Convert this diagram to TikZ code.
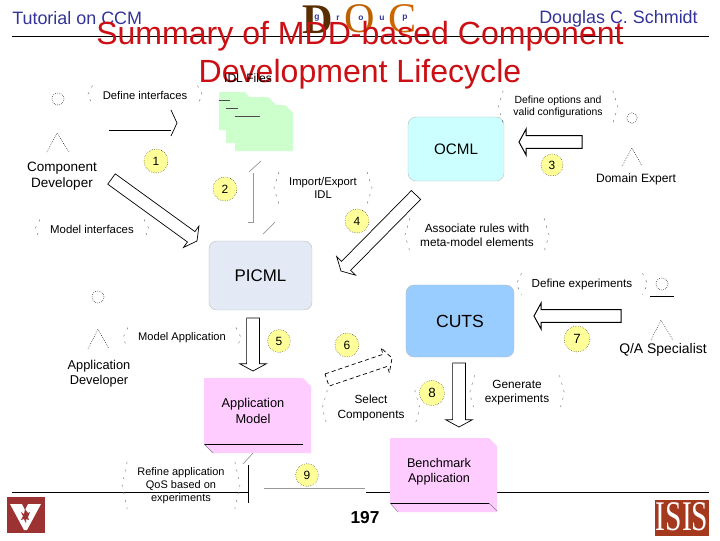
\documentclass[tikz,border=0pt]{standalone}
\usepackage{fontspec}
\setmainfont{Liberation Sans}
\newfontfamily\logofont{Liberation Serif}
\usetikzlibrary{calc}
\definecolor{titlered}{HTML}{CC0F14}
\definecolor{headblue}{HTML}{333399}
\definecolor{ocmlcolor}{HTML}{CCFFFF}
\definecolor{picmlcolor}{HTML}{E3EAF5}
\definecolor{cutscolor}{HTML}{99CCFF}
\definecolor{modelcolor}{HTML}{FFCCFF}
\definecolor{idlcolor}{HTML}{CCFFCC}
\definecolor{stepcolor}{HTML}{FFFF99}
\definecolor{vandycolor}{HTML}{9C3232}
\definecolor{isiscolor}{HTML}{A5391E}
\newcommand{\fsize}[1]{\fontsize{#1}{1.2\dimexpr#1\relax}\selectfont}
\tikzset{
  caption/.style={align=center, inner sep=0pt, font=\fsize{8pt}},
  actorname/.style={align=center, inner sep=0pt, font=\fsize{9.6pt}},
  toolbox/.style={rounded corners=2mm, draw=black!25, line width=0.3pt, inner sep=0pt},
  stepmark/.style={circle, fill=stepcolor, draw=black, densely dotted, line width=0.3pt, inner sep=0pt, minimum size=0.6cm, font=\fsize{8.5pt}},
  actorhead/.style={circle, draw=black, densely dotted, line width=0.4pt, inner sep=0pt, minimum size=0.3cm},
  actorlegs/.style={draw=black, line width=0.4pt, densely dotted},
  blockline/.style={draw=black, fill=white, line width=0.5pt},
  frag/.style={draw=black!60, line width=0.3pt, dash pattern=on 1.5pt off 4pt},
}
% arrow with a wide shaft between two named points
\newcommand{\blockarrow}[3][]{
  \coordinate (basept) at ($(#3)!1.8mm!(#2)$);
  \path[blockline,#1] ($(#2)!1.6mm!90:(#3)$) -- ($(basept)!1.6mm!90:(#3)$) -- ($(basept)!3.3mm!90:(#3)$) -- (#3)
    -- ($(basept)!3.3mm!-90:(#3)$) -- ($(basept)!1.6mm!-90:(#3)$) -- ($(#2)!1.6mm!-90:(#3)$) -- cycle;
}
\begin{document}
\begin{tikzpicture}[x=0.025cm,y=-0.025cm]
\useasboundingbox (0,0) rectangle (720,540);
% Logo
\node[text=black!65!orange, font=\logofont\bfseries\fsize{30pt}, inner sep=0pt] (logod) at (318,20) {D};
\node[text=black!25!orange, font=\logofont\fsize{30pt}, inner sep=0pt] (logoo) at (360,19) {O};
\node[text=black!20!orange, font=\logofont\fsize{30pt}, inner sep=0pt] (logoc) at (403,19) {C};
\foreach \lx/\lc in {317/g,338/r,361/o,382/u,405/p}
  \node[text=headblue, font=\bfseries\fsize{6pt}, inner sep=0pt] (logo\lc) at (\lx,18) {\lc};
% Header and footer
\draw[line width=0.5pt] (12,36) -- (709,36);
\draw[line width=0.5pt] (12,492) -- (248,492);
\draw[line width=0.5pt] (366,492) -- (709,492);
\node[right, headblue, inner sep=0pt, font=\fsize{12.75pt}] (tutorial) at (12,18) {Tutorial on CCM};
\node[left, headblue, inner sep=0pt, font=\fsize{12.75pt}] (author) at (698,19) {Douglas C. Schmidt};
\node[titlered, align=center, inner sep=0pt, font=\fontsize{22.8pt}{27.3pt}\selectfont] (slidetitle) at (360,55.5) {Summary of MDD-based Component\\Development Lifecycle};
\node[inner sep=0pt, font=\fsize{12.3pt}\bfseries] (pagenum) at (365,518) {197};
% IDL files
\node[caption, font=\fsize{8.6pt}] (idllabel) at (248,78) {IDL Files};
\fill[idlcolor] (219,92) -- (245,92) -- (252,100) -- (252,130) -- (219,130) -- cycle;
\fill[idlcolor] (226,97) -- (268,97) -- (276,105) -- (276,143) -- (226,143) -- cycle;
\fill[idlcolor] (235,105) -- (285,105) -- (293,113) -- (293,151) -- (235,151) -- cycle;
\draw[black!70, line width=0.5pt] (219,100) -- (230,100);
\draw[black!70, line width=0.5pt] (226,108) -- (238,108);
\draw[black!70, line width=0.5pt] (235,116) -- (260,116);
% Tools
\node[toolbox, fill=ocmlcolor, minimum width=2.4cm, minimum height=1.6cm, font=\fsize{10.8pt}] (ocml) at (456,149) {OCML};
\node[toolbox, fill=picmlcolor, minimum width=2.575cm, minimum height=1.725cm, font=\fsize{12pt}] (picml) at (260.5,275.5) {PICML};
\node[toolbox, fill=cutscolor, minimum width=2.7cm, minimum height=1.8cm, font=\fsize{12.5pt}] (cuts) at (460,321) {CUTS};
% Models
\fill[modelcolor] (204,378) -- (303,378) -- (311,386) -- (311,453) -- (213,453) -- (204,444) -- cycle;
\draw[line width=0.5pt] (204,444) -- (303,444);
\draw[black!50, line width=0.3pt] (204,444) -- (213,453);
\node[caption, font=\fsize{9.1pt}] (appmodel) at (253,411) {Application\\Model};
\fill[modelcolor] (390,438) -- (489,438) -- (497,446) -- (497,512) -- (398,512) -- (390,503) -- cycle;
\draw[line width=0.5pt] (390,503) -- (489,503);
\draw[black!50, line width=0.3pt] (390,503) -- (398,512);
\draw[black!50, line width=0.3pt] (489,503) -- (497,511);
\node[caption, font=\fsize{9pt}] (benchmark) at (439,472) {Benchmark\\Application};
% Actors
\node[actorhead] (devhead) at (58,99) {};
\draw[actorlegs] (47,152) -- (57,133) -- (69,152);
\node[actorname] (devname) at (62,176) {Component\\Developer};
\node[actorhead, minimum size=0.26cm] (domainhead) at (632,118) {};
\draw[actorlegs] (622,166) -- (632,148) -- (642,166);
\node[actorname, font=\fsize{8.6pt}] (domainname) at (636,179) {Domain Expert};
\node[actorhead] (apphead) at (98,297) {};
\draw[actorlegs] (88,349) -- (98,329) -- (109,349);
\node[actorname, font=\fsize{9.1pt}] (appname) at (99,373.5) {Application\\Developer};
\node[actorhead] (qahead) at (662,284) {};
\draw[line width=0.5pt] (650,296) -- (674,296);
\draw[actorlegs] (651,340) -- (661,320) -- (673,340);
\node[actorname, font=\fsize{9.9pt}] (qaname) at (663,350) {Q/A Specialist};
% Captions
\node[caption] (definelabel) at (145,95) {Define interfaces};
\node[caption, font=\fsize{8.1pt}] (modellabel) at (92,229) {Model interfaces};
\node[caption] (importlabel) at (323,188) {Import/Export\\IDL};
\node[caption, font=\fsize{7.4pt}] (optionlabel) at (558,107) {Define options and\\valid configurations};
\node[caption, font=\fsize{8.4pt}] (rulelabel) at (477,235) {Associate rules with\\meta-model elements};
\node[caption, font=\fsize{8.3pt}] (expdeflabel) at (582,284) {Define experiments};
\node[caption, font=\fsize{7.9pt}] (applabel) at (182,338) {Model Application};
\node[caption, font=\fsize{8.4pt}] (selectlabel) at (371,408) {Select\\Components};
\node[caption, font=\fsize{8.4pt}] (genlabel) at (517,393) {Generate\\experiments};
\node[caption, font=\fsize{7.8pt}] (refinelabel) at (181,485.5) {Refine application\\QoS based on\\experiments};
\foreach \n in {definelabel,modellabel,importlabel,optionlabel,rulelabel,expdeflabel,applabel,selectlabel,genlabel,refinelabel} {
  \draw[frag] ([shift={(-10,-5)}]\n.north west) -- ([shift={(-15,0)}]\n.west) -- ([shift={(-10,5)}]\n.south west);
  \draw[frag] ([shift={(10,-5)}]\n.north east) -- ([shift={(15,0)}]\n.east) -- ([shift={(10,5)}]\n.south east);
}
% Block arrows
\coordinate (devout) at (111.5,179);
\coordinate (picmlin) at (197,241);
\blockarrow{devout}{picmlin}
\coordinate (picmlout) at (416,195);
\coordinate (rulein) at (341,271);
\blockarrow{picmlout}{rulein}
\coordinate (domainout) at (582,142);
\coordinate (ocmlin) at (519,142);
\blockarrow[line width=0.7pt]{domainout}{ocmlin}
\coordinate (appout) at (253,318);
\coordinate (appin) at (253,371);
\blockarrow{appout}{appin}
\coordinate (selectout) at (327,380);
\coordinate (selectin) at (392,358);
\blockarrow[densely dashed]{selectout}{selectin}
\coordinate (qaout) at (621,316);
\coordinate (cutsin) at (534,316);
\blockarrow[line width=0.7pt]{qaout}{cutsin}
\coordinate (cutsout) at (459,363);
\coordinate (benchin) at (459,427);
\blockarrow{cutsout}{benchin}
% Broken arrows
\draw[line width=0.5pt] (109,130) -- (171,130);
\draw[line width=0.5pt] (171,110) -- (177,123) -- (171,136);
\draw[black!40, line width=0.5pt] (249,172) -- (261,161);
\draw[black!40, line width=0.5pt] (253,173) -- (253,222) -- (248,222);
\draw[black!40, line width=0.5pt] (263,234) -- (275,222);
\draw[line width=0.5pt] (248,465) -- (248,503);
\draw[black!40, line width=0.5pt] (243,464) -- (253,453);
\draw[black!40, line width=0.5pt] (264,488) -- (365,488);
% Step numbers
\node[stepmark] (stepa) at (156,161) {1};
\node[stepmark] (stepb) at (225,189) {2};
\node[stepmark, minimum size=0.55cm] (stepc) at (552,165) {3};
\node[stepmark] (stepd) at (357,221) {4};
\node[stepmark, minimum size=0.57cm] (stepe) at (279,341) {5};
\node[stepmark] (stepf) at (347,345) {6};
\node[stepmark, minimum size=0.65cm, font=\fsize{9.5pt}] (stepg) at (577,339) {7};
\node[stepmark, minimum size=0.63cm, font=\fsize{9.5pt}] (steph) at (432,393) {8};
\node[stepmark, minimum size=0.57cm] (stepi) at (307,475) {9};
% Vanderbilt
\fill[vandycolor] (7,497) rectangle (45,533);
\fill[white] (10,504) -- (22,504) -- (25,510) -- (28,504) -- (41,504) -- (27,530) -- (24,530) -- cycle;
\fill[vandycolor] (25,509) -- (28,513) -- (30,512) -- (28,517) -- (29,520) -- (26,519) -- (26,523) -- (24,519) -- (21,520) -- (23,516) -- (21,512) -- (24,514) -- cycle;
% ISIS
\fill[isiscolor] (655,500) rectangle (709,536);
\node[white, inner sep=0pt, font=\logofont\fsize{15pt}, xscale=1.4, yscale=2] (isis) at (682,517) {ISIS};
\end{tikzpicture}
\end{document}
